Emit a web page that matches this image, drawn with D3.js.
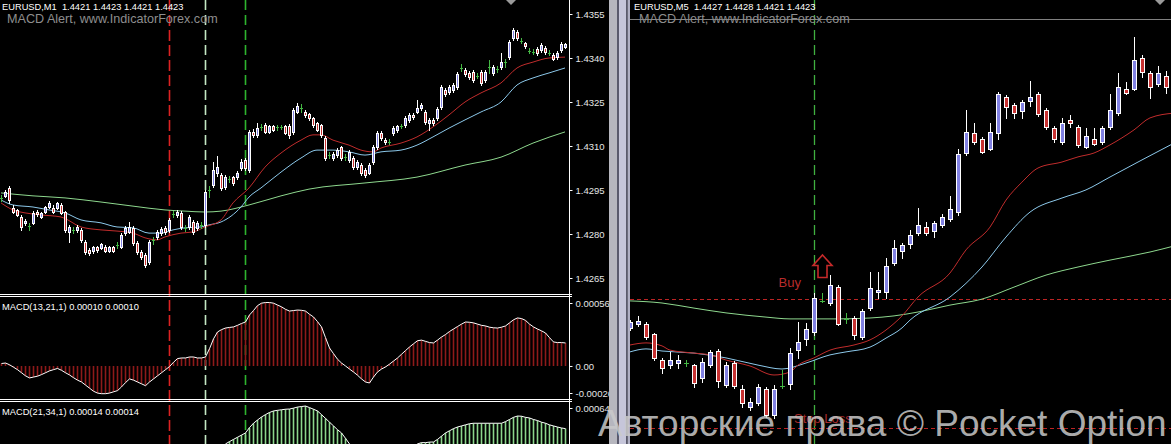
<!DOCTYPE html>
<html><head><meta charset="utf-8">
<script src="https://cdn.jsdelivr.net/npm/d3@7/dist/d3.min.js"></script>
<style>html,body{margin:0;padding:0;background:#000;overflow:hidden}svg{display:block}</style>
</head><body>
<svg id="chart" width="1171" height="444"></svg>
<script>
// ================= DATA =================
// Left chart: EURUSD M1 (142 bars)
const leftOpen = [
1.42923,1.42930,1.42957,1.42889,1.42882,1.42858,1.42838,1.42827,1.42838,1.42875,
1.42858,1.42875,1.42892,1.42889,1.42889,1.42899,1.42875,1.42807,1.42814,1.42814,
1.42814,1.42773,1.42746,1.42742,1.42756,1.42752,1.42756,1.42742,1.42756,1.42763,
1.42756,1.42803,1.42807,1.42821,1.42769,1.42739,1.42728,1.42705,1.42780,1.42790,
1.42803,1.42821,1.42814,1.42868,1.42865,1.42872,1.42821,1.42824,1.42841,1.42821,
1.42831,1.42831,1.42950,1.42967,1.43008,1.43001,1.42960,1.42988,1.42994,1.42994,
1.43025,1.43052,1.43018,1.43148,1.43138,1.43165,1.43172,1.43148,1.43168,1.43165,
1.43165,1.43168,1.43168,1.43148,1.43216,1.43230,1.43216,1.43209,1.43195,1.43178,
1.43172,1.43127,1.43069,1.43059,1.43069,1.43097,1.43062,1.43052,1.43059,1.43028,
1.43035,1.43018,1.43008,1.43045,1.43097,1.43144,1.43120,1.43114,1.43144,1.43155,
1.43168,1.43172,1.43189,1.43206,1.43216,1.43230,1.43216,1.43178,1.43189,1.43195,
1.43233,1.43291,1.43284,1.43291,1.43301,1.43366,1.43359,1.43349,1.43352,1.43339,
1.43352,1.43325,1.43369,1.43349,1.43362,1.43369,1.43386,1.43403,1.43468,1.43489,
1.43458,1.43451,1.43424,1.43420,1.43431,1.43427,1.43434,1.43417,1.43410,1.43403,
1.43427,1.43438];
const leftHigh = [
1.42933,1.42950,1.42964,1.42899,1.42885,1.42865,1.42851,1.42838,1.42878,1.42882,
1.42875,1.42895,1.42912,1.42899,1.42909,1.42906,1.42878,1.42831,1.42824,1.42831,
1.42821,1.42780,1.42752,1.42759,1.42759,1.42769,1.42763,1.42759,1.42759,1.42773,
1.42803,1.42827,1.42841,1.42827,1.42776,1.42746,1.42735,1.42780,1.42790,1.42814,
1.42824,1.42827,1.42855,1.42878,1.42882,1.42878,1.42831,1.42865,1.42848,1.42844,
1.42841,1.42950,1.42964,1.43045,1.43066,1.43008,1.43001,1.42998,1.42998,1.43015,
1.43056,1.43059,1.43155,1.43158,1.43178,1.43175,1.43178,1.43172,1.43172,1.43172,
1.43172,1.43172,1.43175,1.43230,1.43247,1.43243,1.43223,1.43212,1.43199,1.43182,
1.43175,1.43134,1.43080,1.43080,1.43093,1.43100,1.43073,1.43086,1.43066,1.43052,
1.43042,1.43025,1.43042,1.43103,1.43151,1.43151,1.43127,1.43124,1.43168,1.43172,
1.43175,1.43202,1.43212,1.43212,1.43257,1.43247,1.43223,1.43195,1.43195,1.43233,
1.43308,1.43298,1.43308,1.43315,1.43352,1.43380,1.43366,1.43356,1.43359,1.43349,
1.43359,1.43359,1.43393,1.43376,1.43373,1.43417,1.43397,1.43461,1.43502,1.43495,
1.43468,1.43455,1.43434,1.43431,1.43438,1.43451,1.43441,1.43427,1.43417,1.43424,
1.43455,1.43451];
const leftLow = [
1.42912,1.42926,1.42906,1.42872,1.42861,1.42814,1.42831,1.42814,1.42834,1.42861,
1.42855,1.42872,1.42889,1.42872,1.42885,1.42868,1.42807,1.42773,1.42803,1.42807,
1.42773,1.42732,1.42728,1.42735,1.42739,1.42749,1.42739,1.42739,1.42739,1.42752,
1.42752,1.42797,1.42803,1.42763,1.42732,1.42715,1.42688,1.42698,1.42766,1.42783,
1.42797,1.42800,1.42807,1.42858,1.42858,1.42817,1.42810,1.42817,1.42800,1.42814,
1.42821,1.42824,1.42926,1.42960,1.42998,1.42950,1.42953,1.42977,1.42967,1.42988,
1.43018,1.43018,1.43011,1.43131,1.43131,1.43155,1.43144,1.43144,1.43151,1.43155,
1.43158,1.43141,1.43127,1.43141,1.43212,1.43216,1.43199,1.43189,1.43165,1.43151,
1.43131,1.43052,1.43059,1.43052,1.43062,1.43052,1.43052,1.43045,1.43022,1.43022,
1.43001,1.42994,1.43005,1.43039,1.43090,1.43120,1.43107,1.43107,1.43138,1.43148,
1.43161,1.43165,1.43182,1.43192,1.43212,1.43223,1.43175,1.43155,1.43172,1.43189,
1.43226,1.43270,1.43277,1.43284,1.43294,1.43356,1.43339,1.43328,1.43318,1.43332,
1.43308,1.43318,1.43349,1.43342,1.43352,1.43362,1.43369,1.43397,1.43461,1.43461,
1.43451,1.43434,1.43417,1.43414,1.43410,1.43420,1.43414,1.43410,1.43393,1.43397,
1.43420,1.43434];
const leftClose = [
1.42923,1.42943,1.42916,1.42875,1.42865,1.42824,1.42844,1.42827,1.42872,1.42868,
1.42872,1.42892,1.42906,1.42875,1.42906,1.42872,1.42814,1.42824,1.42814,1.42824,
1.42780,1.42739,1.42735,1.42756,1.42746,1.42766,1.42742,1.42756,1.42742,1.42763,
1.42797,1.42821,1.42824,1.42769,1.42739,1.42722,1.42694,1.42773,1.42780,1.42807,
1.42817,1.42807,1.42848,1.42868,1.42875,1.42824,1.42821,1.42858,1.42807,1.42838,
1.42831,1.42943,1.42950,1.43018,1.43028,1.42957,1.42994,1.42988,1.42974,1.43008,
1.43045,1.43025,1.43148,1.43138,1.43161,1.43165,1.43148,1.43168,1.43155,1.43165,
1.43165,1.43144,1.43138,1.43223,1.43236,1.43230,1.43206,1.43195,1.43172,1.43155,
1.43138,1.43059,1.43069,1.43073,1.43086,1.43059,1.43062,1.43080,1.43028,1.43045,
1.43008,1.43001,1.43035,1.43097,1.43144,1.43127,1.43114,1.43114,1.43161,1.43168,
1.43168,1.43195,1.43206,1.43199,1.43230,1.43240,1.43182,1.43189,1.43178,1.43226,
1.43301,1.43277,1.43301,1.43308,1.43345,1.43366,1.43345,1.43335,1.43325,1.43339,
1.43315,1.43352,1.43369,1.43369,1.43362,1.43386,1.43386,1.43455,1.43495,1.43468,
1.43458,1.43441,1.43424,1.43420,1.43417,1.43444,1.43420,1.43417,1.43397,1.43417,
1.43448,1.43448];

// Left moving averages: [bar, price]
const leftRedMA = [[0,1.42906],[3,1.42882],[6,1.42872],[10,1.42865],[15,1.42858],[20,1.42824],[25,1.42814],[29,1.42810],[33,1.42803],[36,1.42787],[39,1.42780],[41,1.42790],[45,1.42803],[48,1.42807],[51,1.42824],[55,1.42848],[58,1.42906],[62,1.42957],[66,1.43028],[70,1.43076],[75,1.43120],[78,1.43138],[80,1.43138],[83,1.43120],[87,1.43103],[90,1.43086],[93,1.43080],[95,1.43093],[100,1.43110],[104,1.43131],[108,1.43165],[112,1.43206],[116,1.43250],[120,1.43281],[125,1.43315],[129,1.43366],[133,1.43386],[137,1.43400],[141,1.43403]];
const leftBlueMA = [[0,1.42916],[3,1.42899],[8,1.42892],[12,1.42882],[16,1.42872],[20,1.42848],[25,1.42838],[29,1.42824],[33,1.42821],[37,1.42803],[40,1.42803],[43,1.42814],[46,1.42821],[50,1.42824],[52,1.42831],[55,1.42841],[60,1.42892],[62,1.42926],[65,1.42957],[70,1.43011],[75,1.43059],[79,1.43086],[83,1.43086],[87,1.43080],[91,1.43069],[95,1.43080],[100,1.43086],[104,1.43103],[108,1.43131],[112,1.43161],[116,1.43189],[120,1.43216],[125,1.43250],[129,1.43308],[133,1.43332],[137,1.43349],[141,1.43366]];
const leftGreenMA = [[0,1.42940],[8,1.42930],[16,1.42923],[25,1.42909],[33,1.42895],[41,1.42882],[46,1.42878],[51,1.42875],[55,1.42878],[62,1.42899],[70,1.42930],[77,1.42953],[91,1.42974],[104,1.42994],[116,1.43035],[125,1.43062],[133,1.43110],[141,1.43148]];

// MACD histograms, in points (1 point = 0.00001)
const macd1Points = [
2,2.4,1,-1,-3,-5.5,-8,-9.7,-9,-8.3,
-7,-5.5,-4,-3,-2,-3.5,-5.5,-7.3,-9.5,-11.5,
-13,-15.5,-18,-20.5,-22,-22.5,-22.5,-22,-21,-20,
-17,-13.5,-10.5,-11.5,-13,-14.5,-16,-13,-10.5,-8,
-5.5,-3,-0.5,3,6,6.5,6.5,7.3,7.3,6.5,
6.5,7.3,14,22,27.6,29.5,30.8,31.3,31.7,33,
34.5,35.7,41.4,45,49,51,51.5,51.5,51,49.5,
48,46,44.6,45,45.4,45.2,44.6,42,39.8,36,
31.7,23,14.6,10,5.5,2.4,0,-2.5,-4.9,-7.5,
-10.5,-13,-13.8,-9,-4.9,-2.5,-0.8,1.5,4,6.5,
9.5,12.5,15.4,18,20.5,21,20,19,18.7,21,
23.5,25.5,28,30,32,34,35.7,35.5,35,34,
33,32.5,31.5,31,30.8,31.5,32.5,35,37.5,39,
38.5,37,34,31.7,30,28.5,26.8,23,19.5,19,
19,18.7];
const macd2Points = [
5,5,4,3,1,-1,-3,-5,-6,-6,
-6,-5,-5,-5,-5,-6,-7,-8,-10,-12,
-14,-16,-18,-20,-21,-22,-22,-22,-22,-21,
-19,-17,-16,-16,-17,-17,-17,-15,-13,-11,
-8,-6,-3,0,2,3,4,5,6,6,
7,8,13,18,22,25,28.8,31,33,35,
37,39,44,48,51,53.8,56,58,59.4,60,
60.5,61,61.2,62,63,63.5,64,62.5,61,59.4,
56,52.5,49,45.5,42,39,34,28.8,24,20,
16,12,10,9,9,10,11,13,15,17,
19,21,23,25.5,28.8,30,30,30.5,30.6,33,
36,39,41,43,44.5,45.5,46.5,47.5,48,48,
48,48,48,48,48,48,49.5,51.5,53.5,54.7,
54.5,53.5,52.9,51.5,50.5,49,48,46.5,45.5,44.5,
43.6,43];

const leftPriceTicks = [1.4355,1.4340,1.4325,1.4310,1.4295,1.4280,1.4265];
const macd1TickValues = [56, 0, -26];
const macd1TickLabels = ['0.00056','0.00','-0.00026'];
const macd2TickValues = [64];
const macd2TickLabels = ['0.00064'];
const leftMarkerBars = [42, 51, 61];

// Right chart: EURUSD M5 (68 bars)
const rightOpen = [
1.42907,1.42920,1.42920,1.42887,1.42800,1.42783,1.42790,1.42790,1.42783,1.42740,
1.42783,1.42830,1.42717,1.42790,1.42703,1.42643,1.42657,1.42703,1.42617,1.42713,
1.42720,1.42833,1.42870,1.42893,1.42997,1.42990,1.43043,1.42937,1.42940,1.42877,
1.42973,1.43027,1.43027,1.43123,1.43163,1.43187,1.43223,1.43243,1.43230,1.43250,
1.43270,1.43293,1.43490,1.43557,1.43537,1.43503,1.43557,1.43677,1.43650,1.43630,
1.43663,1.43687,1.43633,1.43573,1.43527,1.43600,1.43577,1.43510,1.43537,1.43527,
1.43577,1.43623,1.43703,1.43703,1.43807,1.43757,1.43720,1.43747];
const rightHigh = [
1.42933,1.42947,1.42927,1.42890,1.42807,1.42827,1.42817,1.42800,1.42787,1.42807,
1.42833,1.42837,1.42793,1.42797,1.42717,1.42673,1.42720,1.42710,1.42717,1.42767,
1.42840,1.42927,1.42923,1.43023,1.43023,1.43083,1.43050,1.42957,1.42947,1.42970,
1.43093,1.43093,1.43140,1.43200,1.43190,1.43233,1.43307,1.43260,1.43263,1.43287,
1.43347,1.43503,1.43633,1.43590,1.43543,1.43590,1.43693,1.43683,1.43657,1.43667,
1.43730,1.43693,1.43640,1.43580,1.43607,1.43617,1.43583,1.43573,1.43573,1.43580,
1.43687,1.43757,1.43727,1.43877,1.43817,1.43763,1.43780,1.43763];
const rightLow = [
1.42900,1.42913,1.42870,1.42800,1.42757,1.42773,1.42773,1.42780,1.42710,1.42727,
1.42777,1.42710,1.42710,1.42707,1.42643,1.42633,1.42650,1.42610,1.42607,1.42707,
1.42703,1.42807,1.42850,1.42883,1.42993,1.42983,1.42917,1.42923,1.42870,1.42870,
1.42967,1.43007,1.43007,1.43117,1.43140,1.43173,1.43217,1.43217,1.43210,1.43243,
1.43263,1.43283,1.43483,1.43520,1.43490,1.43500,1.43537,1.43607,1.43607,1.43607,
1.43647,1.43613,1.43570,1.43527,1.43520,1.43577,1.43510,1.43507,1.43517,1.43520,
1.43570,1.43617,1.43687,1.43700,1.43743,1.43673,1.43713,1.43690];
const rightClose = [
1.42927,1.42930,1.42877,1.42807,1.42773,1.42800,1.42800,1.42790,1.42723,1.42793,
1.42827,1.42730,1.42783,1.42713,1.42657,1.42660,1.42710,1.42617,1.42703,1.42713,
1.42823,1.42860,1.42903,1.43007,1.42997,1.43050,1.42920,1.42937,1.42883,1.42963,
1.43040,1.43033,1.43113,1.43173,1.43183,1.43217,1.43250,1.43223,1.43257,1.43277,
1.43303,1.43487,1.43560,1.43527,1.43493,1.43560,1.43687,1.43643,1.43623,1.43660,
1.43677,1.43620,1.43577,1.43537,1.43590,1.43590,1.43517,1.43547,1.43520,1.43573,
1.43633,1.43710,1.43690,1.43800,1.43760,1.43710,1.43757,1.43710];

const rightRedMA = [[0,1.42850],[2,1.42857],[4,1.42847],[5,1.42833],[8,1.42823],[10,1.42817],[12,1.42800],[15,1.42780],[18,1.42750],[20,1.42760],[21,1.42783],[23,1.42807],[25,1.42833],[28,1.42850],[30,1.42867],[32,1.42900],[34,1.42947],[36,1.43010],[40,1.43090],[42,1.43167],[45,1.43243],[47,1.43333],[49,1.43393],[51,1.43440],[54,1.43460],[56,1.43477],[58,1.43490],[60,1.43517],[63,1.43567],[65,1.43607],[68,1.43623]];
const rightBlueMA = [[0,1.42827],[2,1.42837],[4,1.42830],[8,1.42823],[12,1.42807],[16,1.42783],[19,1.42770],[22,1.42790],[25,1.42817],[27,1.42827],[30,1.42843],[32,1.42873],[34,1.42907],[35,1.42933],[40,1.43010],[44,1.43110],[47,1.43210],[50,1.43293],[54,1.43340],[57,1.43367],[60,1.43410],[64,1.43467],[68,1.43523]];
const rightGreenMA = [[0,1.42997],[4,1.42990],[8,1.42973],[12,1.42957],[17,1.42943],[20,1.42937],[23,1.42937],[26,1.42937],[30,1.42940],[33,1.42947],[36,1.42960],[40,1.42983],[44,1.43003],[48,1.43043],[52,1.43083],[56,1.43110],[60,1.43133],[65,1.43160],[68,1.43180]];

const buyLevel = 1.43003;
const stopLevel = 1.42573;
const levelLine = 1.43937;
const rightMarkerBar = 23;
const buySignalBar = 24;
const buyArrowPrice = 1.43150;

const leftHeader = 'EURUSD,M1  1.4421 1.4423 1.4421 1.4423';
const rightHeader = 'EURUSD,M5  1.4427 1.4428 1.4421 1.4423';
const indicatorTitle = 'MACD Alert, www.IndicatorForex.com';
const macd1Title = 'MACD(13,21,1) 0.00010 0.00010';
const macd2Title = 'MACD(21,34,1) 0.00014 0.00014';
const watermark = 'Авторские права © Pocket Option';

// ================= DRAW =================
const FONT = '"Liberation Sans", Arial, sans-serif';
const BULL = '#8080e2', BEAR = '#c83232', DOJI = '#44b844';
const svg = d3.select('#chart');
svg.append('rect').attr('width',1171).attr('height',444).attr('fill','#000');
const defs = svg.append('defs');
function clip(id,x,y,w,h){defs.append('clipPath').attr('id',id).append('rect').attr('x',x).attr('y',y).attr('width',w).attr('height',h);}
clip('cMain',0,0,569,294);
clip('cM1',0,297,569,102);
clip('cM2',0,402,569,42);
clip('cRight',630,0,541,444);

// scales
const lx = d3.scaleLinear().domain([0,141]).range([1,565]);
const ly = d3.scaleLinear().domain([1.4265,1.4355]).range([278,14]);
const m1y = d3.scaleLinear().domain([-26,56]).range([398,297]);
const m2y = d3.scaleLinear().domain([-30,64]).range([507.3,406]);
const rx = d3.scaleLinear().domain([0,67]).range([630,1166]);
const ry = d3.scaleLinear().domain([1.4252,1.4400]).range([444,0]);

function candles(g, O, Hh, Ll, C, xs, ys, half){
  const idx = d3.range(O.length);
  const doji = i => O[i] === C[i];
  const col = i => Math.round(xs(i));
  const py = v => Math.round(ys(v));
  g.selectAll(null).data(idx).join('line')
    .attr('x1',i=>col(i)+0.5).attr('x2',i=>col(i)+0.5)
    .attr('y1',i=>py(Hh[i])).attr('y2',i=>py(Ll[i])+1)
    .attr('stroke',i=>doji(i)?DOJI:'#fff').attr('stroke-width',1);
  g.selectAll(null).data(idx.filter(doji)).join('line')
    .attr('x1',i=>col(i)-half).attr('x2',i=>col(i)+half+1)
    .attr('y1',i=>py(O[i])+0.5).attr('y2',i=>py(O[i])+0.5)
    .attr('stroke',DOJI).attr('stroke-width',1);
  g.selectAll(null).data(idx.filter(i=>!doji(i))).join('rect')
    .attr('x',i=>col(i)-half+0.5).attr('width',2*half)
    .attr('y',i=>Math.min(py(O[i]),py(C[i]))+0.5)
    .attr('height',i=>Math.max(Math.abs(py(O[i])-py(C[i])),1))
    .attr('fill',i=>C[i]>O[i]?BULL:BEAR)
    .attr('stroke','#fff').attr('stroke-width',1);
}
function maLine(g, pts, xs, ys, color){
  g.append('path').datum(pts)
    .attr('d', d3.line().x(d=>xs(d[0])).y(d=>ys(d[1])).curve(d3.curveMonotoneX))
    .attr('fill','none').attr('stroke',color).attr('stroke-width',1);
}

// ---- Left panel vertical markers (full height) ----
const markerStyles = [{c:'#dc2222',d:'11,4'},{c:'#c4e8c4',d:'10,5'},{c:'#2eb42e',d:'10,5'}];
leftMarkerBars.forEach((b,k)=>{
  svg.append('line').attr('x1',Math.round(lx(b))+0.5).attr('x2',Math.round(lx(b))+0.5)
    .attr('y1',0).attr('y2',444).attr('stroke',markerStyles[k].c)
    .attr('stroke-dasharray',markerStyles[k].d).attr('stroke-width',1.6);
});

// ---- Left main chart ----
const gMain = svg.append('g').attr('clip-path','url(#cMain)');
maLine(gMain, leftGreenMA, lx, ly, '#8ed88e');
maLine(gMain, leftBlueMA, lx, ly, '#8cc8ea');
maLine(gMain, leftRedMA, lx, ly, '#c02c2c');
candles(gMain, leftOpen, leftHigh, leftLow, leftClose, lx, ly, 1);

// ---- MACD panels ----
function histogram(clipId, vals, ys, color){
  const g = svg.append('g').attr('clip-path',`url(#${clipId})`);
  g.selectAll(null).data(vals).join('line')
    .attr('x1',(v,i)=>Math.round(lx(i))+0.5).attr('x2',(v,i)=>Math.round(lx(i))+0.5)
    .attr('y1',ys(0)).attr('y2',v=>ys(v))
    .attr('stroke',color).attr('stroke-width',1.6);
  g.append('path').datum(vals)
    .attr('d', d3.line().x((v,i)=>lx(i)+0.5).y(v=>ys(v)))
    .attr('fill','none').attr('stroke','#fff').attr('stroke-width',1);
}
histogram('cM1', macd1Points, m1y, '#8e1a1a');
histogram('cM2', macd2Points, m2y, '#8cd68c');

// ---- Borders ----
const border = svg.append('g').attr('stroke','#fff').attr('stroke-width',1).attr('shape-rendering','crispEdges');
border.append('line').attr('x1',569.5).attr('x2',569.5).attr('y1',0).attr('y2',444);
[294.5,296.5,399.5,401.5].forEach(y=>border.append('line').attr('x1',0).attr('x2',572).attr('y1',y).attr('y2',y));

// ---- Left price axis ----
const ax = svg.append('g').attr('transform','translate(569.5,0)')
  .call(d3.axisRight(ly).tickValues(leftPriceTicks).tickSize(3).tickPadding(3).tickFormat(d3.format('.4f')));
ax.select('.domain').remove();
ax.selectAll('line').attr('stroke','#fff');
ax.selectAll('text').attr('fill','#e6e6e6').style('font-family',FONT).style('font-size','9.5px');

// MACD axes
function macdAxis(vals, labels, ys, offsets){
  const g = svg.append('g').attr('transform','translate(569.5,0)')
    .call(d3.axisRight(ys).tickValues(vals).tickSize(3).tickPadding(3).tickFormat((d,i)=>labels[i]));
  g.select('.domain').remove();
  g.selectAll('line').attr('stroke','#fff').attr('transform',(d,i)=>`translate(0,${offsets[i]})`);
  g.selectAll('text').attr('fill','#e6e6e6').style('font-family',FONT).style('font-size','9.5px')
    .attr('y',(d,i)=>offsets[i]);
}
macdAxis(macd1TickValues, macd1TickLabels, m1y, [6,0,-5]);
macdAxis(macd2TickValues, macd2TickLabels, m2y, [2]);

// MACD titles
svg.append('text').attr('x',2).attr('y',310).text(macd1Title)
  .attr('fill','#fff').style('font-family',FONT).style('font-size','9.3px');
svg.append('text').attr('x',2).attr('y',415).text(macd2Title)
  .attr('fill','#fff').style('font-family',FONT).style('font-size','9.3px');

// ---- Separator ----
const sep = svg.append('g');
sep.append('rect').attr('x',609).attr('y',0).attr('width',8).attr('height',444).attr('fill','#b6b6be');
sep.append('rect').attr('x',617).attr('y',0).attr('width',2).attr('height',444).attr('fill','#5a5a6c');
sep.append('rect').attr('x',619).attr('y',0).attr('width',7).attr('height',444).attr('fill','#c6c6da');
sep.append('rect').attr('x',626).attr('y',0).attr('width',1.5).attr('height',444).attr('fill','#5a5a6c');
sep.append('rect').attr('x',627.5).attr('y',0).attr('width',2.5).attr('height',444).attr('fill','#b0b0c4');

// ---- Right panel ----
const gR = svg.append('g').attr('clip-path','url(#cRight)');
gR.append('line').attr('x1',630).attr('x2',1171).attr('y1',Math.round(ry(levelLine))+0.5).attr('y2',Math.round(ry(levelLine))+0.5)
  .attr('stroke','#808080').attr('stroke-width',1);
gR.append('line').attr('x1',Math.round(rx(rightMarkerBar))+0.5).attr('x2',Math.round(rx(rightMarkerBar))+0.5)
  .attr('y1',0).attr('y2',444).attr('stroke','#40b040').attr('stroke-dasharray','10,5').attr('stroke-width',1.3);
[buyLevel, stopLevel].forEach(p=>{
  gR.append('line').attr('x1',630).attr('x2',1171).attr('y1',Math.round(ry(p))+0.5).attr('y2',Math.round(ry(p))+0.5)
    .attr('stroke','#bc2424').attr('stroke-dasharray','4,3').attr('stroke-width',1.2);
});
maLine(gR, rightGreenMA, rx, ry, '#8ed88e');
maLine(gR, rightBlueMA, rx, ry, '#8cc8ea');
maLine(gR, rightRedMA, rx, ry, '#c02c2c');
candles(gR, rightOpen, rightHigh, rightLow, rightClose, rx, ry, 2);

// Buy arrow and labels
const axp = Math.round(rx(buySignalBar))+0.5, ayp = ry(buyArrowPrice);
gR.append('path')
  .attr('d',`M${axp},${ayp} L${axp+9.5},${ayp+10.5} L${axp+4.5},${ayp+10.5} L${axp+4.5},${ayp+22.5} L${axp-4.5},${ayp+22.5} L${axp-4.5},${ayp+10.5} L${axp-9.5},${ayp+10.5} Z`)
  .attr('fill','none').attr('stroke','#c62a2a').attr('stroke-width',1.6);
gR.append('text').attr('x',axp-44).attr('y',ry(buyLevel)-12).text('Buy')
  .attr('fill','#b82c2c').style('font-family',FONT).style('font-size','13px');
gR.append('text').attr('x',794).attr('y',ry(stopLevel)-5).text('Stop Loss')
  .attr('fill','#a82a2a').style('font-family',FONT).style('font-size','13px');

// ---- Headers ----
function header(x, title){
  svg.append('text').attr('x',x).attr('y',10).text(title).style('white-space','pre')
    .attr('fill','#fff').style('font-family',FONT).style('font-size','9.3px');
  svg.append('text').attr('x',x+5).attr('y',22.5).text(indicatorTitle)
    .attr('fill','#8e8e8e').style('font-family',FONT).style('font-size','12.6px');
}
header(2, leftHeader);
header(634, rightHeader);

// shift markers
svg.append('path').attr('d','M506,0 L516,0 L511,5 Z').attr('fill','#9a9a9a');
svg.append('path').attr('d','M1155,0 L1165,0 L1160,5 Z').attr('fill','#9a9a9a');

// ---- Watermark ----
svg.append('text').attr('x',598).attr('y',436).text(watermark)
  .attr('fill','#cacaca').attr('fill-opacity',0.85)
  .style('font-family',FONT).style('font-size','37px');
</script>
</body></html>
